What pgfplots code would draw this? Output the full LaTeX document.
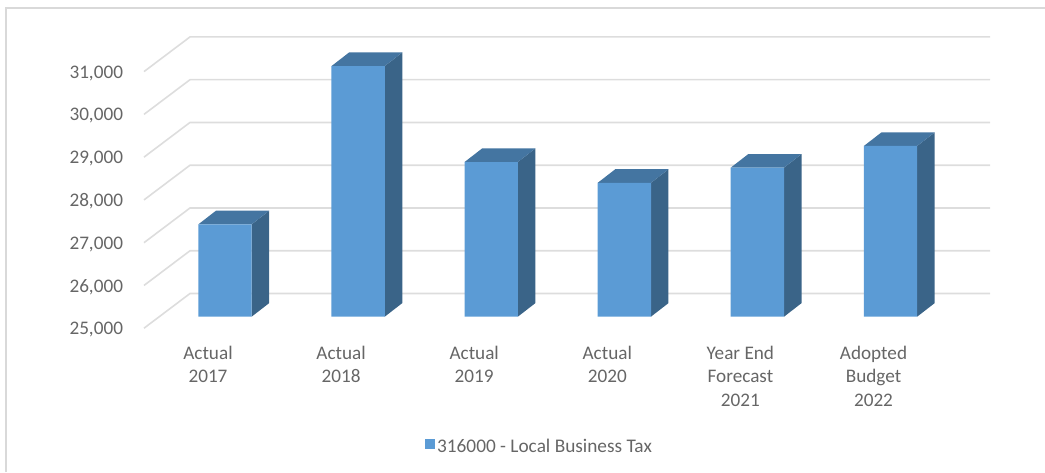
\documentclass[border=0pt]{standalone}
\usepackage{pgfplots}
\usepackage{fontspec}
\setmainfont{Carlito}
\pgfplotsset{compat=1.18}
\definecolor{barfront}{HTML}{5B9BD5}
\definecolor{bartop}{HTML}{4475A1}
\definecolor{barside}{HTML}{3A6488}
\definecolor{gridgray}{HTML}{DDDDDD}
\definecolor{textgray}{HTML}{666666}
\definecolor{framegray}{HTML}{D9D9D9}
\begin{document}
\begin{tikzpicture}[x=1pt,y=1pt]
\path[use as bounding box] (0,0) rectangle (1045,472);
% chart area outline: left and top edges
\draw[framegray,line width=2pt] (6,0) -- (6,464) -- (1045,464);
\begin{axis}[
  at={(144pt,143.8pt)}, anchor=south west,
  scale only axis, width=800pt, height=256.6pt,
  xmin=-0.4733, xmax=5.5372, ymin=25000, ymax=31000,
  clip=false,
  axis line style={draw=none},
  major tick length=0pt,
  ytick={25000,26000,27000,28000,29000,30000,31000},
  scaled y ticks=false,
  xtick={0,1,2,3,4,5},
  xticklabels={{Actual\\2017},{Actual\\2018},{Actual\\2019},{Actual\\2020},{Year End\\Forecast\\2021},{Adopted\\Budget\\2022}},
  y tick label style={/pgf/number format/assume math mode=true,/pgf/number format/fixed,/pgf/number format/1000 sep={,},xshift=-17.5pt,yshift=-1.5pt},
  tick label style={font=\fontsize{19.2}{23.5}\selectfont,text=textgray},
  x tick label style={align=center,anchor=north,yshift=-14pt,xshift=1pt},
  legend style={draw=none,fill=none,at={(0.4944,-0.4626)},anchor=center,font=\fontsize{19.3}{23.5}\selectfont,text=textgray},
  legend cell align=left,
  legend image code/.code={\fill[barfront] (-13pt,-13.5pt) rectangle (-3pt,-3.5pt);},
  barpart/.style={forget plot,draw=none,xshift=18pt,yshift=11.5pt},
]
% floor and wall gridlines
\addplot[forget plot,gridgray,line width=1.6pt] coordinates {(-0.4733,25000) (-0.1277,25811) (5.883,25811)};
\addplot[forget plot,gridgray,line width=1.6pt] coordinates {(-0.4733,26000) (-0.1277,26811) (5.883,26811)};
\addplot[forget plot,gridgray,line width=1.6pt] coordinates {(-0.4733,27000) (-0.1277,27811) (5.883,27811)};
\addplot[forget plot,gridgray,line width=1.6pt] coordinates {(-0.4733,28000) (-0.1277,28811) (5.883,28811)};
\addplot[forget plot,gridgray,line width=1.6pt] coordinates {(-0.4733,29000) (-0.1277,29811) (5.883,29811)};
\addplot[forget plot,gridgray,line width=1.6pt] coordinates {(-0.4733,30000) (-0.1277,30811) (5.883,30811)};
\addplot[forget plot,gridgray,line width=1.6pt] coordinates {(-0.4733,31000) (-0.1277,31811) (5.883,31811)};
% right-hand sides of the bars
\addplot[barpart,fill=barside] coordinates {(0.2,25000)(0.2,27160)(0.332,27478)(0.332,25318)} -- cycle;
\addplot[barpart,fill=barside] coordinates {(1.2,25000)(1.2,30860)(1.332,31178)(1.332,25318)} -- cycle;
\addplot[barpart,fill=barside] coordinates {(2.2,25000)(2.2,28617)(2.332,28935)(2.332,25318)} -- cycle;
\addplot[barpart,fill=barside] coordinates {(3.2,25000)(3.2,28130)(3.332,28448)(3.332,25318)} -- cycle;
\addplot[barpart,fill=barside] coordinates {(4.2,25000)(4.2,28486)(4.332,28804)(4.332,25318)} -- cycle;
\addplot[barpart,fill=barside] coordinates {(5.2,25000)(5.2,28992)(5.332,29310)(5.332,25318)} -- cycle;
% top faces of the bars
\addplot[barpart,fill=bartop] coordinates {(-0.2,27160)(0.2,27160)(0.332,27478)(-0.068,27478)} -- cycle;
\addplot[barpart,fill=bartop] coordinates {(0.8,30860)(1.2,30860)(1.332,31178)(0.932,31178)} -- cycle;
\addplot[barpart,fill=bartop] coordinates {(1.8,28617)(2.2,28617)(2.332,28935)(1.932,28935)} -- cycle;
\addplot[barpart,fill=bartop] coordinates {(2.8,28130)(3.2,28130)(3.332,28448)(2.932,28448)} -- cycle;
\addplot[barpart,fill=bartop] coordinates {(3.8,28486)(4.2,28486)(4.332,28804)(3.932,28804)} -- cycle;
\addplot[barpart,fill=bartop] coordinates {(4.8,28992)(5.2,28992)(5.332,29310)(4.932,29310)} -- cycle;
% front faces of the bars
\addplot[ybar,bar width=53.4pt,bar shift=0pt,draw=none,fill=barfront,xshift=18pt,yshift=11.5pt]
  coordinates {(0,27160)(1,30860)(2,28617)(3,28130)(4,28486)(5,28992)};
\addlegendentry{316000 - Local Business Tax}
\end{axis}
\end{tikzpicture}
\end{document}
